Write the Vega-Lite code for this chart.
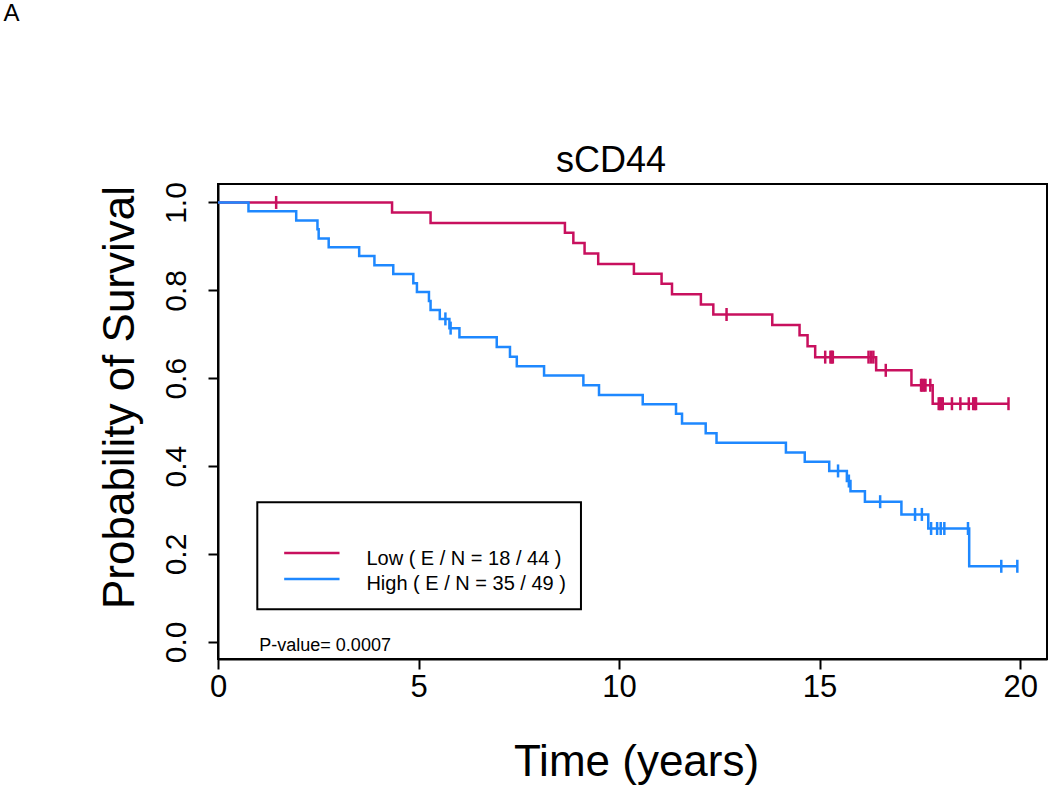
{
  "$schema": "https://vega.github.io/schema/vega-lite/v6.json",
  "autosize": {"type": "none"},
  "width": 829,
  "height": 475,
  "padding": {"left": 218, "top": 184, "right": 3, "bottom": 129},
  "background": "white",
  "config": {
    "font": "Liberation Sans",
    "view": {"stroke": "black", "strokeWidth": 2},
    "axis": {"grid": false, "labelFlush": false, "labelOverlap": false, "domainColor": "black", "domainWidth": 2, "tickColor": "black", "tickWidth": 2, "tickSize": 10, "labelColor": "black", "titleColor": "black", "labelFont": "Liberation Sans", "titleFont": "Liberation Sans", "titleFontWeight": "normal"}
  },
  "datasets": {
    "low": [
      {"time": 0, "surv": 1.0}, {"time": 4.34, "surv": 0.977}, {"time": 5.30, "surv": 0.953},
      {"time": 8.65, "surv": 0.931}, {"time": 8.86, "surv": 0.908}, {"time": 9.14, "surv": 0.884},
      {"time": 9.48, "surv": 0.860}, {"time": 10.37, "surv": 0.838}, {"time": 11.06, "surv": 0.815},
      {"time": 11.32, "surv": 0.791}, {"time": 12.04, "surv": 0.768}, {"time": 12.35, "surv": 0.745},
      {"time": 13.82, "surv": 0.721}, {"time": 14.50, "surv": 0.698}, {"time": 14.70, "surv": 0.673},
      {"time": 14.89, "surv": 0.648}, {"time": 16.41, "surv": 0.618}, {"time": 17.29, "surv": 0.584},
      {"time": 17.82, "surv": 0.542}, {"time": 19.71, "surv": 0.542}
    ],
    "high": [
      {"time": 0, "surv": 1.0}, {"time": 0.76, "surv": 0.980}, {"time": 1.95, "surv": 0.959},
      {"time": 2.48, "surv": 0.939}, {"time": 2.51, "surv": 0.918}, {"time": 2.76, "surv": 0.898},
      {"time": 3.52, "surv": 0.878}, {"time": 3.90, "surv": 0.857}, {"time": 4.37, "surv": 0.837},
      {"time": 4.87, "surv": 0.816}, {"time": 4.96, "surv": 0.796}, {"time": 5.26, "surv": 0.776},
      {"time": 5.30, "surv": 0.755}, {"time": 5.53, "surv": 0.735}, {"time": 5.77, "surv": 0.714},
      {"time": 6.02, "surv": 0.693}, {"time": 6.95, "surv": 0.671}, {"time": 7.28, "surv": 0.649},
      {"time": 7.45, "surv": 0.627}, {"time": 8.13, "surv": 0.606}, {"time": 9.11, "surv": 0.584},
      {"time": 9.50, "surv": 0.562}, {"time": 10.59, "surv": 0.541}, {"time": 11.42, "surv": 0.519},
      {"time": 11.57, "surv": 0.497}, {"time": 12.16, "surv": 0.475}, {"time": 12.43, "surv": 0.453},
      {"time": 14.16, "surv": 0.431}, {"time": 14.63, "surv": 0.410}, {"time": 15.24, "surv": 0.389},
      {"time": 15.68, "surv": 0.366}, {"time": 15.77, "surv": 0.343}, {"time": 16.13, "surv": 0.319},
      {"time": 17.04, "surv": 0.290}, {"time": 17.71, "surv": 0.258}, {"time": 18.73, "surv": 0.172},
      {"time": 19.93, "surv": 0.172}
    ],
    "censor": [
      {"group": "Low", "time": 1.45, "surv": 1.0}, {"group": "Low", "time": 12.68, "surv": 0.745},
      {"group": "Low", "time": 15.14, "surv": 0.648}, {"group": "Low", "time": 15.27, "surv": 0.648},
      {"group": "Low", "time": 15.30, "surv": 0.648}, {"group": "Low", "time": 15.33, "surv": 0.648},
      {"group": "Low", "time": 16.22, "surv": 0.648}, {"group": "Low", "time": 16.28, "surv": 0.648},
      {"group": "Low", "time": 16.34, "surv": 0.648}, {"group": "Low", "time": 16.65, "surv": 0.618},
      {"group": "Low", "time": 17.53, "surv": 0.584}, {"group": "Low", "time": 17.56, "surv": 0.584},
      {"group": "Low", "time": 17.60, "surv": 0.584}, {"group": "Low", "time": 17.64, "surv": 0.584},
      {"group": "Low", "time": 17.76, "surv": 0.584}, {"group": "Low", "time": 17.97, "surv": 0.542},
      {"group": "Low", "time": 18.00, "surv": 0.542}, {"group": "Low", "time": 18.04, "surv": 0.542},
      {"group": "Low", "time": 18.07, "surv": 0.542}, {"group": "Low", "time": 18.30, "surv": 0.542},
      {"group": "Low", "time": 18.51, "surv": 0.542}, {"group": "Low", "time": 18.72, "surv": 0.542},
      {"group": "Low", "time": 18.83, "surv": 0.542}, {"group": "Low", "time": 18.87, "surv": 0.542},
      {"group": "Low", "time": 18.90, "surv": 0.542}, {"group": "Low", "time": 19.71, "surv": 0.542},
      {"group": "High", "time": 5.67, "surv": 0.735}, {"group": "High", "time": 5.80, "surv": 0.714},
      {"group": "High", "time": 15.46, "surv": 0.389}, {"group": "High", "time": 15.73, "surv": 0.366},
      {"group": "High", "time": 16.51, "surv": 0.319}, {"group": "High", "time": 17.38, "surv": 0.290},
      {"group": "High", "time": 17.55, "surv": 0.290}, {"group": "High", "time": 17.78, "surv": 0.258},
      {"group": "High", "time": 17.93, "surv": 0.258}, {"group": "High", "time": 18.02, "surv": 0.258},
      {"group": "High", "time": 18.11, "surv": 0.258}, {"group": "High", "time": 18.70, "surv": 0.258},
      {"group": "High", "time": 19.53, "surv": 0.172}, {"group": "High", "time": 19.93, "surv": 0.172}
    ]
  },
  "layer": [
    {
      "data": {"name": "low"},
      "mark": {"type": "line", "interpolate": "step-after", "color": "#C8105E", "strokeWidth": 2.5, "clip": false},
      "encoding": {
        "x": {"field": "time", "type": "quantitative", "scale": {"domain": [0, 20.67], "nice": false, "zero": false},
          "axis": {"values": [0, 5, 10, 15, 20], "labelFontSize": 31, "labelPadding": 3, "title": "Time (years)", "titleFontSize": 44, "titleX": 418, "titleY": 116, "titleBaseline": "alphabetic"}},
        "y": {"field": "surv", "type": "quantitative", "scale": {"domain": [-0.039, 1.042], "nice": false, "zero": false},
          "axis": {"values": [0, 0.2, 0.4, 0.6, 0.8, 1.0], "format": ".1f", "labelFontSize": 30, "labelAngle": -90, "labelAlign": "center", "labelBaseline": "alphabetic", "labelPadding": 23, "title": "Probability of Survival", "titleFontSize": 44, "titleAngle": -90, "titleAlign": "center", "titleBaseline": "alphabetic", "titleX": -85, "titleY": 213}}
      }
    },
    {
      "data": {"name": "high"},
      "mark": {"type": "line", "interpolate": "step-after", "color": "#1E88FF", "strokeWidth": 2.5, "clip": false},
      "encoding": {
        "x": {"field": "time", "type": "quantitative", "scale": {"domain": [0, 20.67], "nice": false, "zero": false}},
        "y": {"field": "surv", "type": "quantitative", "scale": {"domain": [-0.039, 1.042], "nice": false, "zero": false}}
      }
    },
    {
      "data": {"name": "censor"},
      "mark": {"type": "point", "shape": "M0,-1L0,1", "size": 169, "strokeWidth": 2.5, "filled": false, "opacity": 1},
      "encoding": {
        "x": {"field": "time", "type": "quantitative", "scale": {"domain": [0, 20.67], "nice": false, "zero": false}},
        "y": {"field": "surv", "type": "quantitative", "scale": {"domain": [-0.039, 1.042], "nice": false, "zero": false}},
        "color": {"field": "group", "type": "nominal", "scale": {"domain": ["Low", "High"], "range": ["#C8105E", "#1E88FF"]}, "legend": null}
      }
    },
    {
      "data": {"values": [{"x1": 0.98, "x2": 9.05, "y1": 0.318, "y2": 0.0745}]},
      "mark": {"type": "rect", "fill": "white", "fillOpacity": 0, "stroke": "black", "strokeWidth": 2},
      "encoding": {
        "x": {"field": "x1", "type": "quantitative", "scale": {"domain": [0, 20.67], "nice": false, "zero": false}},
        "x2": {"field": "x2"},
        "y": {"field": "y1", "type": "quantitative", "scale": {"domain": [-0.039, 1.042], "nice": false, "zero": false}},
        "y2": {"field": "y2"}
      }
    },
    {
      "data": {"values": [
        {"group": "Low", "x1": 1.65, "x2": 3.03, "y": 0.202, "label": "Low  ( E / N = 18 / 44 )", "ty": 0.176},
        {"group": "High", "x1": 1.65, "x2": 3.03, "y": 0.143, "label": "High  ( E / N = 35 / 49 )", "ty": 0.118}
      ]},
      "layer": [
        {
          "mark": {"type": "rule", "strokeWidth": 2.5},
          "encoding": {
            "x": {"field": "x1", "type": "quantitative", "scale": {"domain": [0, 20.67], "nice": false, "zero": false}},
            "x2": {"field": "x2"},
            "y": {"field": "y", "type": "quantitative", "scale": {"domain": [-0.039, 1.042], "nice": false, "zero": false}},
            "color": {"field": "group", "type": "nominal", "scale": {"domain": ["Low", "High"], "range": ["#C8105E", "#1E88FF"]}, "legend": null}
          }
        },
        {
          "mark": {"type": "text", "align": "left", "baseline": "alphabetic", "fontSize": 20, "color": "black"},
          "encoding": {
            "x": {"datum": 3.70, "type": "quantitative", "scale": {"domain": [0, 20.67], "nice": false, "zero": false}},
            "y": {"field": "ty", "type": "quantitative", "scale": {"domain": [-0.039, 1.042], "nice": false, "zero": false}},
            "text": {"field": "label"}
          }
        }
      ]
    },
    {
      "data": {"values": [
        {"x": 1.03, "y": -0.021, "label": "P-value= 0.0007", "size": 18},
        {"x": -5.35, "y": 1.412, "label": "A", "size": 24}
      ]},
      "mark": {"type": "text", "align": "left", "baseline": "alphabetic", "color": "black"},
      "encoding": {
        "x": {"field": "x", "type": "quantitative", "scale": {"domain": [0, 20.67], "nice": false, "zero": false}},
        "y": {"field": "y", "type": "quantitative", "scale": {"domain": [-0.039, 1.042], "nice": false, "zero": false}},
        "text": {"field": "label"},
        "size": {"field": "size", "type": "quantitative", "scale": null}
      }
    },
    {
      "data": {"values": [{"x": 9.80, "y": 1.070, "label": "sCD44"}]},
      "mark": {"type": "text", "align": "center", "baseline": "alphabetic", "color": "black", "fontSize": 36},
      "encoding": {
        "x": {"field": "x", "type": "quantitative", "scale": {"domain": [0, 20.67], "nice": false, "zero": false}},
        "y": {"field": "y", "type": "quantitative", "scale": {"domain": [-0.039, 1.042], "nice": false, "zero": false}},
        "text": {"field": "label"}
      }
    }
  ]
}
